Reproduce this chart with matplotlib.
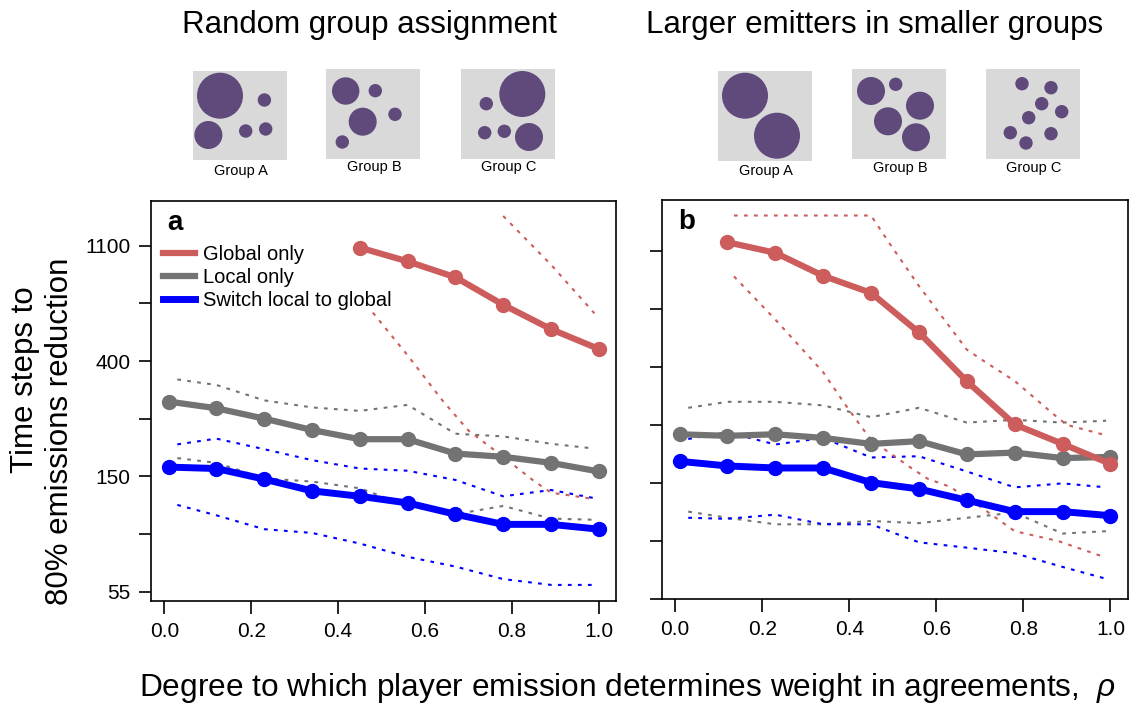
import numpy as np
import matplotlib
matplotlib.use('Agg')
import matplotlib.pyplot as plt
from matplotlib.patches import Circle, Rectangle
from matplotlib.lines import Line2D

plt.rcParams['font.family'] = ['Liberation Sans', 'DejaVu Sans']
plt.rcParams['mathtext.fontset'] = 'custom'
plt.rcParams['mathtext.rm'] = 'Liberation Sans'
plt.rcParams['mathtext.it'] = 'Liberation Sans:italic'

W, H = 1129, 703

#%% data: time steps to 80% emissions reduction
rho = [0.01, 0.12, 0.23, 0.34, 0.45, 0.56, 0.67, 0.78, 0.89, 1.0]
rho_band = [0.03, 0.12, 0.23, 0.34, 0.45, 0.56, 0.67, 0.78, 0.89, 0.99]

# panel a - random group assignment
a_global_x = [0.45, 0.56, 0.67, 0.78, 0.89, 1.0]
a_global = [1078, 957, 834, 657, 532, 448]
a_local = [284, 268, 245, 222, 205, 205, 181, 176, 167, 155]
a_switch = [161, 159, 145, 131, 125, 118, 107, 98, 98, 94]
a_local_hi = [344, 328, 287, 270, 262, 276, 215, 210, 197, 189]
a_local_lo = [174, 167, 146, 142, 134, 115, 107, 115, 103, 102]
a_switch_hi = [196, 206, 188, 171, 159, 156, 144, 125, 132, 123]
a_switch_lo = [116, 106, 94, 91, 83, 74, 68, 61, 58, 58]
a_global_hi_x = [0.78, 0.89, 0.99]
a_global_hi = [1418, 930, 610]
a_global_lo_x = [0.48, 0.56, 0.64, 0.70, 0.78, 0.85, 0.89, 0.99]
a_global_lo = [614, 424, 287, 221, 176, 143, 129, 122]

# panel b - larger emitters in smaller groups
b_global_x = [0.12, 0.23, 0.34, 0.45, 0.56, 0.67, 0.78, 0.89, 1.0]
b_global = [1184, 1081, 886, 765, 544, 357, 246, 208, 175]
b_local = [226, 223, 226, 219, 208, 213, 190, 193, 184, 186]
b_switch = [179, 172, 169, 169, 149, 141, 128, 116, 116, 112]
b_local_hi = [284, 299, 299, 290, 262, 284, 250, 256, 250, 254]
b_local_lo = [116, 110, 104, 104, 107, 105, 110, 115, 96, 98]
b_switch_hi = [217, 230, 207, 219, 185, 187, 164, 143, 148, 143]
b_switch_lo = [110, 109, 113, 104, 104, 89, 85, 81, 72, 65]
b_global_hi_x = [0.135, 0.45, 0.49, 0.56, 0.67, 0.71, 0.78, 0.87, 0.90, 0.99]
b_global_hi = [1491, 1491, 1188, 812, 469, 424, 358, 268, 245, 224]
b_global_lo_x = [0.135, 0.23, 0.34, 0.39, 0.45, 0.51, 0.54, 0.58, 0.63, 0.68, 0.78, 0.88, 0.98]
b_global_lo = [882, 608, 386, 293, 215, 184, 170, 154, 144, 128, 98, 90, 79]

y_ticks_log = [4, 4.5, 5, 5.5, 6, 6.5, 7]
y_tick_labels = ['55', '', '150', '', '400', '', '1100']
x_ticks = [0.0, 0.2, 0.4, 0.6, 0.8, 1.0]
x_tick_labels = ['0.0', '0.2', '0.4', '0.6', '0.8', '1.0']

legend_labels = ['Global only', 'Local only', 'Switch local to global']

# group pictures: circle centres / radii in box pixels (box ~94 x 90)
groups_a = {
    'Group A': ([27.3, 15.7, 71.7, 53, 73], [24.7, 64, 29, 60, 58], [23, 14, 6.7, 6.7, 6.7]),
    'Group B': ([19.7, 49.3, 36.7, 69, 16.3], [22, 21.7, 52.7, 45.3, 73], [13.7, 6.7, 14, 6.7, 6.7]),
    'Group C': ([61.3, 25.3, 23.7, 43.3, 68], [25, 34.7, 63.7, 62.3, 68], [23, 6.7, 6.7, 6.7, 14]),
}
groups_b = {
    'Group A': ([27, 59], [24.7, 64.7], [23, 23]),
    'Group B': ([19, 43.7, 68, 36, 64], [22, 15.3, 36.7, 52.3, 68.3], [14, 6.7, 14, 14, 14]),
    'Group C': ([36, 65, 55.7, 75.7, 42.7, 24.3, 65, 40], [14.7, 18.7, 34.7, 42.7, 48.7, 63.7, 64.7, 74],
                [6.7] * 8),
}

RED = '#cd5c5c'
GREY = '#737373'
BLUE = '#0000ff'
PURPLE = '#5f4a7b'
BOXGREY = '#d9d9d9'
DOT = (0, (1.8, 3))


def fig_rect(x0, y0, w, h):
    # pixel box (top-left origin) -> figure fraction
    return [x0 / W, 1 - (y0 + h) / H, w / W, h / H]


fig = plt.figure(figsize=(W / 100, H / 100), dpi=100)

#%% main panels
ax1 = fig.add_axes(fig_rect(151.4, 201, 464.6, 400))
ax2 = fig.add_axes(fig_rect(662.3, 200, 465.4, 399))

panels = [
    (ax1, 'a', (3.921, 7.387),
     a_global_x, a_global, a_local, a_switch, a_local_hi, a_local_lo, a_switch_hi, a_switch_lo,
     a_global_hi_x, a_global_hi, a_global_lo_x, a_global_lo),
    (ax2, 'b', (4.037, 7.441),
     b_global_x, b_global, b_local, b_switch, b_local_hi, b_local_lo, b_switch_hi, b_switch_lo,
     b_global_hi_x, b_global_hi, b_global_lo_x, b_global_lo),
]

for (ax, tag, ylim, gx, g, loc, sw, loc_hi, loc_lo, sw_hi, sw_lo,
     ghx, g_hi, glx, g_lo) in panels:
    # dotted ranges
    ax.plot(rho_band, np.log(loc_hi), color=GREY, lw=1.5, ls=DOT)
    ax.plot(rho_band, np.log(loc_lo), color=GREY, lw=1.5, ls=DOT)
    ax.plot(rho_band, np.log(sw_hi), color=BLUE, lw=1.5, ls=DOT)
    ax.plot(rho_band, np.log(sw_lo), color=BLUE, lw=1.5, ls=DOT)
    ax.plot(ghx, np.log(g_hi), color=RED, lw=1.5, ls=DOT)
    ax.plot(glx, np.log(g_lo), color=RED, lw=1.5, ls=DOT)
    # means
    ax.plot(rho, np.log(loc), color=GREY, lw=4.5, marker='o', ms=10, mec=GREY)
    ax.plot(gx, np.log(g), color=RED, lw=4.5, marker='o', ms=10, mec=RED)
    ax.plot(rho, np.log(sw), color=BLUE, lw=5, marker='o', ms=10, mec=BLUE)

    ax.set_xlim(-0.0296, 1.0396)
    ax.set_ylim(*ylim)
    ax.set_xticks(x_ticks)
    ax.set_xticklabels(x_tick_labels)
    ax.set_yticks(y_ticks_log)
    if tag == 'a':
        ax.set_yticklabels(y_tick_labels)
    else:
        ax.set_yticklabels([])
    ax.tick_params(direction='out', length=9, width=1.2, labelsize=15, pad=6)
    for sp in ax.spines.values():
        sp.set_linewidth(1.2)
    ax.text(0.035, 0.945, tag, transform=ax.transAxes,
            fontsize=20, fontweight='bold', ha='left', va='center')

handles = [Line2D([], [], color=RED, lw=4.5),
           Line2D([], [], color=GREY, lw=4.5),
           Line2D([], [], color=BLUE, lw=5)]
ax1.legend(handles, legend_labels, loc='upper left', bbox_to_anchor=(0.008, 0.91),
           frameon=False, fontsize=14.5, handlelength=1.6, handletextpad=0.4,
           labelspacing=0.2, borderaxespad=0.2, borderpad=0.2)

#%% group pictures
boxes_a = [(192.7, 71, 94, 89), (326, 69, 94, 90), (461, 69, 94, 90)]
boxes_b = [(718, 71, 93.7, 89.7), (852, 69, 94, 90), (986, 69, 94, 90)]
label_y_a = [171, 167, 167]
label_y_b = [171.5, 168, 168]

for groups, boxes, label_ys in [(groups_a, boxes_a, label_y_a), (groups_b, boxes_b, label_y_b)]:
    for (name, (cx, cy, rr)), (bx, by, bw, bh), ly in zip(groups.items(), boxes, label_ys):
        gax = fig.add_axes(fig_rect(bx, by, bw, bh))
        gax.set_xlim(0, bw)
        gax.set_ylim(bh, 0)
        gax.axis('off')
        gax.add_patch(Rectangle((0, 0), bw, bh, color=BOXGREY, lw=0))
        for x, y, r in zip(cx, cy, rr):
            gax.add_patch(Circle((x, y), r, color=PURPLE, lw=0))
        fig.text((bx + bw / 2 + 1) / W, 1 - ly / H, name, fontsize=10.5,
                 ha='center', va='center')

#%% titles and axis labels
fig.text(370 / W, 1 - 25 / H, 'Random group assignment', fontsize=22.5, ha='center', va='center')
fig.text(875 / W, 1 - 25 / H, 'Larger emitters in smaller groups', fontsize=22.5,
         ha='center', va='center')
fig.text(25 / W, 1 - 380 / H, 'Time steps to', fontsize=22.5, rotation=90,
         ha='center', va='center')
fig.text(60 / W, 1 - 431 / H, '80% emissions reduction', fontsize=22.5, rotation=90,
         ha='center', va='center')
fig.text(628 / W, 1 - 688 / H,
         'Degree to which player emission determines weight in agreements,  $\\rho$',
         fontsize=22.8, ha='center', va='center')

plt.savefig('out.png', dpi=100)
